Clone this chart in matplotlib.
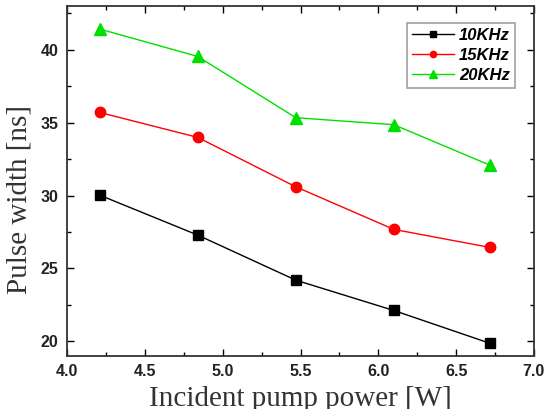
import matplotlib
matplotlib.use("Agg")
import matplotlib.pyplot as plt
from matplotlib.ticker import MultipleLocator

power = [4.21, 4.84, 5.47, 6.10, 6.72]
w10 = [30.03, 27.29, 24.2, 22.12, 19.86]
w15 = [35.7, 33.99, 30.6, 27.68, 26.44]
w20 = [41.42, 39.54, 35.34, 34.86, 32.07]
labels = ["10KHz", "15KHz", "20KHz"]
xticks = [4.0, 4.5, 5.0, 5.5, 6.0, 6.5, 7.0]
yticks = [20, 25, 30, 35, 40]

fig = plt.figure(figsize=(5.45, 4.09), dpi=100)
ax = fig.add_axes([67/545, 1-356/409, (534-67)/545, (356-6)/409])

ax.plot(power, w10, color="black", lw=1, marker="s", ms=7, label=labels[0])
ax.plot(power, w15, color="#ff0000", lw=1, marker="o", ms=7.5, label=labels[1])
ax.plot(power, w20, color="#00e000", lw=1, marker="^", ms=9, label=labels[2])

ax.set_xlim(4.0, 7.0)
ax.set_ylim(19.0, 43.0)
ax.set_xticks(xticks)
ax.set_yticks(yticks)
ax.xaxis.set_minor_locator(MultipleLocator(0.25))
ax.yaxis.set_minor_locator(MultipleLocator(2.5))
ax.tick_params(which="both", direction="in", top=True, right=True, width=1)
ax.tick_params(which="major", length=5, pad=6)
ax.tick_params(which="minor", length=3)
tfont = dict(fontfamily="Liberation Sans", fontweight="bold", fontsize=11.5, color="#222222")
ax.set_xticklabels([f"{t:.1f}" for t in xticks], **tfont)
ax.set_yticklabels([str(t) for t in yticks], **tfont)
for s in ax.spines.values():
    s.set_linewidth(1.3)
    s.set_color("#333333")

ax.set_xlabel("Incident pump power [W]", fontfamily="Liberation Serif", fontsize=21, labelpad=5, color="#333333")
ax.set_ylabel("Pulse width [ns]", fontfamily="Liberation Serif", fontsize=21, labelpad=6, color="#333333")
ax.yaxis.label.set_y(0.446)

leg = ax.legend(loc="upper right", bbox_to_anchor=(515/545, 1-23/409), bbox_transform=fig.transFigure,
                prop={"family": "Liberation Sans", "weight": "bold", "style": "italic", "size": 12},
                fancybox=False, edgecolor="#888888", markerscale=0.6, handlelength=2.5,
                labelspacing=0.3, borderpad=0.3, handletextpad=0.3, borderaxespad=0)
leg.get_frame().set_linewidth(1.2)

fig.savefig("out.png", dpi=100)
